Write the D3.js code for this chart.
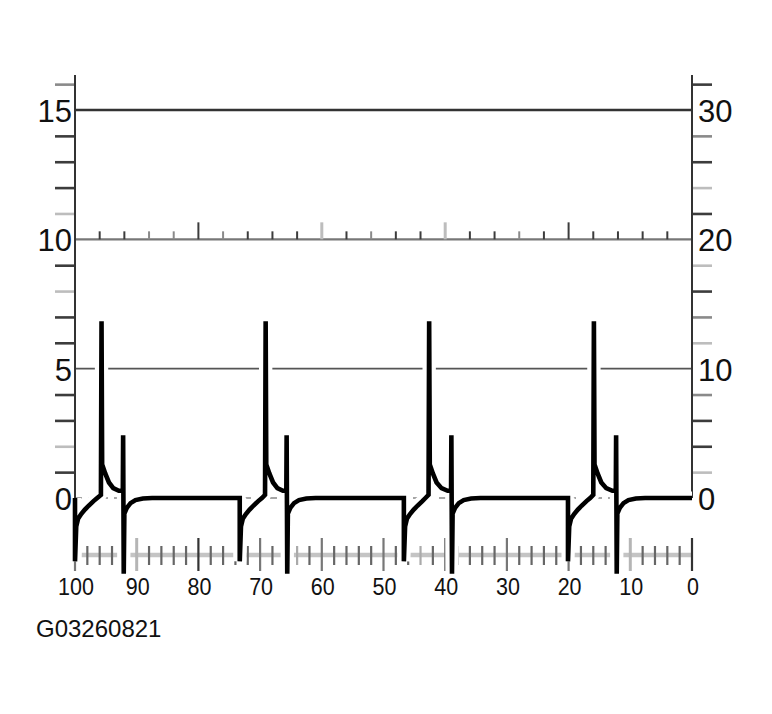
<!DOCTYPE html>
<html>
<head>
<meta charset="utf-8">
<script src="https://cdn.jsdelivr.net/npm/d3@7"></script>
<style>
  html, body { margin: 0; padding: 0; background: #fff; }
  svg { display: block; }
  text { font-family: "Liberation Sans", Arial, Helvetica, sans-serif; fill: #111; }
</style>
</head>
<body>
<svg id="chart" width="772" height="714"></svg>
<script>
// ---------- data ----------
const leftLabels = [0, 5, 10, 15];
const rightLabels = [0, 10, 20, 30];
const bottomLabels = [100, 90, 80, 70, 60, 50, 40, 30, 20, 10, 0];
const leftMinorTicks = [1, 2, 3, 4, 6, 7, 8, 9, 11, 12, 13, 14, 16];
const rightMinorTicks = [2, 4, 6, 8, 12, 14, 16, 18, 22, 24, 26, 28, 32];
const leftLightTicks = [11, 8, 2];
const leftMidTicks = [16];
const rightLightTicks = [24, 18, 12, 2];
const rightMidTicks = [28, 14, 8];
const tenLineTicks = [96, 92, 88, 84, 80, 76, 72, 68, 64, 60, 56, 52, 48, 44, 40, 36, 32, 28, 24, 20, 16, 12, 8, 4];
const tenLineTall = [80, 60, 40, 20];
const tenLineLight = [60, 40];
const tenLineMid = [88, 84, 76, 52, 28];
const bottomMinorTicks = [98, 96, 94, 92, 88, 86, 84, 82, 78, 76, 74, 72, 68, 66, 64, 62, 58, 56, 54, 52,
                          48, 46, 44, 42, 38, 36, 34, 32, 28, 26, 24, 22, 18, 16, 14, 12, 8, 6, 4, 2];
const bottomMajorTicks = [100, 90, 80, 70, 60, 50, 40, 30, 20, 10, 0];
const bottomLightTicks = [90, 10, 66, 64, 44];
const bottomDarkTicks = [80, 0];
const captionText = "G03260821";

// signal trace (x in axis units, y in left-axis units)
const signalX = [
  100.0, 100.0, 99.8, 99.5, 99.0, 98.4, 97.8, 97.0, 96.4, 95.8, 95.7, 95.6, 95.1, 94.5, 93.8, 92.9, 92.25, 92.2, 92.1, 92.0, 91.6, 91.0, 90.2, 89.0, 87.5,
  73.3, 73.3, 73.1, 72.8, 72.3, 71.7, 71.1, 70.3, 69.7, 69.2, 69.1, 69.0, 68.5, 67.9, 67.2, 66.3, 65.75, 65.7, 65.6, 65.5, 65.1, 64.5, 63.7, 62.5, 61.0,
  46.7, 46.7, 46.5, 46.2, 45.7, 45.1, 44.5, 43.7, 43.2, 42.7, 42.6, 42.5, 42.0, 41.4, 40.6, 39.6, 39.05, 39.0, 38.9, 38.8, 38.4, 37.8, 37.0, 35.8, 34.3,
  20.1, 20.1, 19.9, 19.6, 19.1, 18.5, 17.9, 17.1, 16.5, 16.0, 15.9, 15.8, 15.3, 14.7, 13.9, 12.9, 12.35, 12.3, 12.2, 12.1, 11.7, 11.1, 10.3, 9.1, 7.6,
  0.0
];
const signalY = [
  0, -2.45, -1.1, -0.8, -0.62, -0.45, -0.3, -0.12, 0.0, 0.12, 6.83, 1.3, 0.95, 0.6, 0.38, 0.28, 0.28, 2.43, -2.93, -0.6, -0.38, -0.2, -0.08, -0.02, 0,
  0, -2.45, -1.1, -0.8, -0.62, -0.45, -0.3, -0.12, 0.0, 0.12, 6.83, 1.3, 0.95, 0.6, 0.38, 0.28, 0.28, 2.43, -2.93, -0.6, -0.38, -0.2, -0.08, -0.02, 0,
  0, -2.45, -1.1, -0.8, -0.62, -0.45, -0.3, -0.12, 0.0, 0.12, 6.83, 1.3, 0.95, 0.6, 0.38, 0.28, 0.28, 2.43, -2.93, -0.6, -0.38, -0.2, -0.08, -0.02, 0,
  0, -2.45, -1.1, -0.8, -0.62, -0.45, -0.3, -0.12, 0.0, 0.12, 6.83, 1.3, 0.95, 0.6, 0.38, 0.28, 0.28, 2.43, -2.93, -0.6, -0.38, -0.2, -0.08, -0.02, 0,
  0
];

// ---------- layout ----------
const svg = d3.select("#chart");
const x = d3.scaleLinear().domain([100, 0]).range([75, 692]);
const yL = d3.scaleLinear().domain([0, 15]).range([498, 110]);
const yR = d3.scaleLinear().domain([0, 30]).range([498, 110]);
const axisTop = yL(16.35);
const DARK = "#3c3c3c", MID = "#8a8a8a", LIGHT = "#bdbdbd";

const g = svg.append("g");

// horizontal reference lines
g.append("line").attr("x1", x(100)).attr("x2", x(0)).attr("y1", yL(15)).attr("y2", yL(15))
  .attr("stroke", "#333").attr("stroke-width", 2.6);
g.append("line").attr("x1", x(100)).attr("x2", x(0)).attr("y1", yL(10)).attr("y2", yL(10))
  .attr("stroke", "#777").attr("stroke-width", 2.4);
g.append("line").attr("x1", x(100)).attr("x2", x(0)).attr("y1", yL(5)).attr("y2", yL(5))
  .attr("stroke", "#555").attr("stroke-width", 1.8);
g.append("line").attr("x1", x(100)).attr("x2", x(0)).attr("y1", yL(0)).attr("y2", yL(0))
  .attr("stroke", "#888").attr("stroke-width", 1.5).attr("stroke-dasharray", "7,6");

// ticks on the 10 line
g.selectAll(".tt").data(tenLineTicks).enter().append("line")
  .attr("x1", d => x(d)).attr("x2", d => x(d))
  .attr("y1", yL(10)).attr("y2", d => yL(10) - (tenLineTall.includes(d) ? 17 : 8))
  .attr("stroke", d => tenLineLight.includes(d) ? LIGHT : (tenLineMid.includes(d) ? MID : DARK))
  .attr("stroke-width", d => tenLineLight.includes(d) ? 3 : 2);

// left axis
const leftAxis = d3.axisLeft(yL).tickValues(leftMinorTicks).tickSize(20).tickFormat("");
const la = g.append("g").attr("transform", `translate(${x(100)},0)`).call(leftAxis);
la.select(".domain").remove();
la.selectAll(".tick line")
  .attr("stroke", d => leftLightTicks.includes(d) ? LIGHT : (leftMidTicks.includes(d) ? MID : DARK))
  .attr("stroke-width", 2.6);
g.append("line").attr("x1", x(100)).attr("x2", x(100)).attr("y1", axisTop).attr("y2", yL(0))
  .attr("stroke", "#333").attr("stroke-width", 2);

// right axis
const rightAxis = d3.axisRight(yR).tickValues(rightMinorTicks).tickSize(20).tickFormat("");
const ra = g.append("g").attr("transform", `translate(${x(0)},0)`).call(rightAxis);
ra.select(".domain").remove();
ra.selectAll(".tick line")
  .attr("stroke", d => rightLightTicks.includes(d) ? LIGHT : (rightMidTicks.includes(d) ? MID : DARK))
  .attr("stroke-width", 2.6);
g.append("line").attr("x1", x(0)).attr("x2", x(0)).attr("y1", axisTop).attr("y2", yR(0))
  .attr("stroke", "#333").attr("stroke-width", 2);

// bottom scale
const baseY = 555;
g.append("line").attr("x1", x(99)).attr("x2", x(0)).attr("y1", baseY).attr("y2", baseY)
  .attr("stroke", "#c4c4c4").attr("stroke-width", 4.5);
g.selectAll(".bm").data(bottomMinorTicks).enter().append("line")
  .attr("x1", d => x(d)).attr("x2", d => x(d))
  .attr("y1", baseY - 9).attr("y2", baseY + 10)
  .attr("stroke", d => bottomLightTicks.includes(d) ? "#aaa" : "#666")
  .attr("stroke-width", 2.2);
g.selectAll(".bM").data(bottomMajorTicks).enter().append("line")
  .attr("x1", d => x(d)).attr("x2", d => x(d))
  .attr("y1", baseY - 17).attr("y2", baseY + 16)
  .attr("stroke", d => bottomLightTicks.includes(d) ? "#b5b5b5" : (bottomDarkTicks.includes(d) ? "#333" : "#777"))
  .attr("stroke-width", d => bottomLightTicks.includes(d) ? 3 : 2.2);

// signal
const pts = signalX.map((v, i) => [v, signalY[i]]);
const line = d3.line().x(d => x(d[0])).y(d => yL(d[1]));
g.append("path").attr("d", line(pts)).attr("fill", "none")
  .attr("stroke", "#fff").attr("stroke-width", 13).attr("stroke-linejoin", "bevel");
g.append("path").attr("d", line(pts)).attr("fill", "none")
  .attr("stroke", "#000").attr("stroke-width", 4.6).attr("stroke-linejoin", "miter").attr("stroke-miterlimit", 2);

// labels
g.selectAll(".ll").data(leftLabels).enter().append("text")
  .attr("x", 72).attr("y", d => yL(d) + 12)
  .attr("text-anchor", "end").attr("font-size", 31).text(d => d);
g.selectAll(".rl").data(rightLabels).enter().append("text")
  .attr("x", 698).attr("y", d => yR(d) + 12)
  .attr("text-anchor", "start").attr("font-size", 31).text(d => d);
g.selectAll(".bl").data(bottomLabels).enter().append("text")
  .attr("transform", d => `translate(${x(d) + 1},595) scale(1,1.1)`)
  .attr("text-anchor", "middle").attr("font-size", 21.5).text(d => d);
g.append("text").attr("x", 36).attr("y", 637).attr("font-size", 24).text(captionText);
</script>
</body>
</html>
